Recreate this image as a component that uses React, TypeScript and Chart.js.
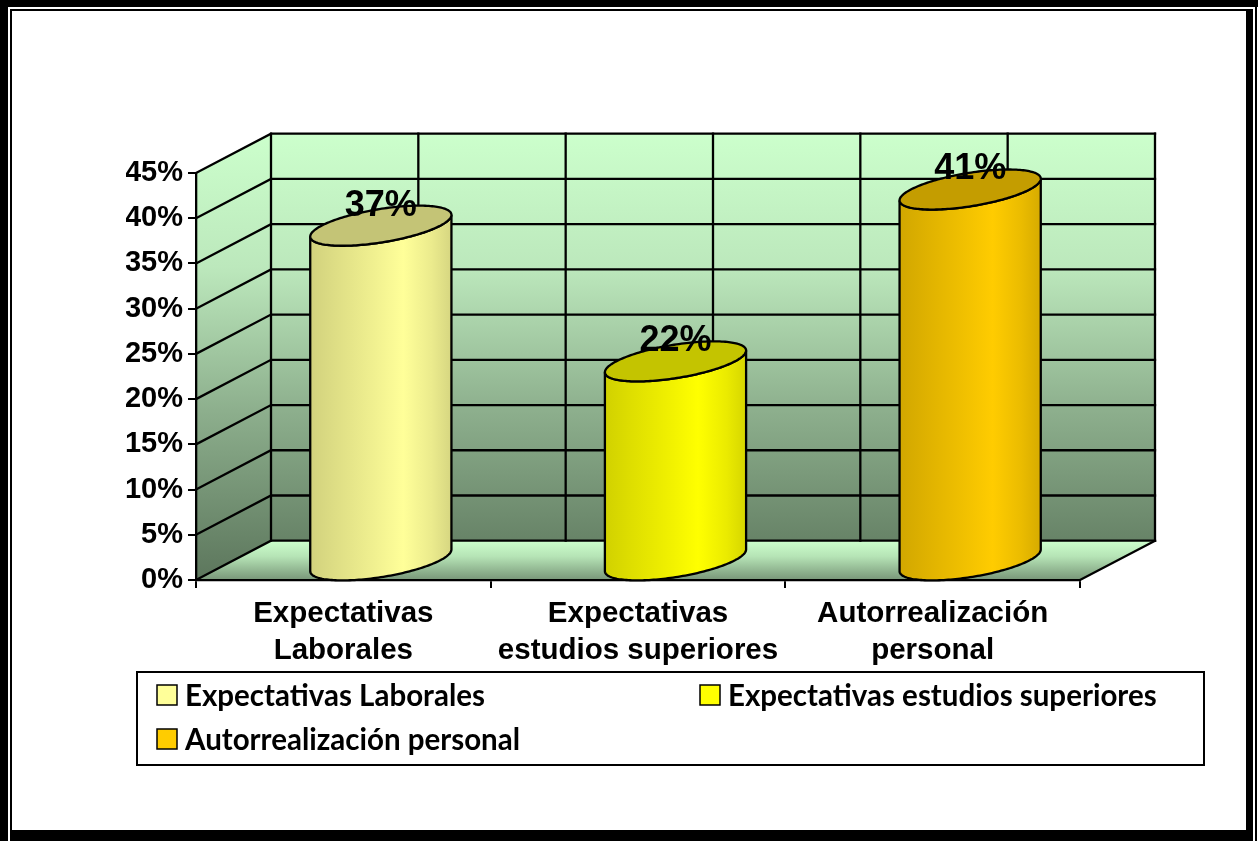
import React, { useEffect, useRef } from 'react';
import { Chart, registerables } from 'chart.js';

Chart.register(...registerables);

// ---------- data ----------
const categories: string[][] = [
  ['Expectativas', 'Laborales'],
  ['Expectativas', 'estudios superiores'],
  ['Autorrealización', 'personal'],
];
const legendLabels: string[] = [
  'Expectativas Laborales',
  'Expectativas estudios superiores',
  'Autorrealización personal',
];
const values: number[] = [0.37, 0.22, 0.41];
const valueLabels: string[] = ['37%', '22%', '41%'];
const yTickLabels: string[] = ['0%', '5%', '10%', '15%', '20%', '25%', '30%', '35%', '40%', '45%'];
const barColors: string[] = ['#FFFF99', '#FFFF00', '#FFCC00'];

// ---------- styling / geometry constants ----------
const W = 1258;
const H = 841;
const DX = 75; // depth offset x
const DY = 39.3; // depth offset y
const RX_FRAC = 0.2014; // cylinder radius as fraction of category width
const RZ = 0.51; // cylinder radius in depth units
const AXIS_FONT = "'Liberation Sans', Arial, sans-serif";
const LEGEND_FONT = "Lato, 'Open Sans', sans-serif";
const LINE_W = 2.3;

function hexToRgb(hex: string) {
  const h = hex.replace('#', '');
  return [parseInt(h.slice(0, 2), 16), parseInt(h.slice(2, 4), 16), parseInt(h.slice(4, 6), 16)];
}
function shade(hex: string, f: number) {
  const [r, g, b] = hexToRgb(hex);
  return `rgb(${Math.round(r * f)},${Math.round(g * f)},${Math.round(b * f)})`;
}

const wallPlugin = {
  id: 'walls3d',
  beforeDraw(chart: any) {
    const ctx = chart.ctx;
    const xs = chart.scales.x;
    const ys = chart.scales.y;
    const x0 = xs.left;
    const x1 = xs.right;
    const yb = ys.getPixelForValue(0);
    const yt = ys.getPixelForValue(ys.max);
    ctx.save();
    // back wall
    const g = ctx.createLinearGradient(0, yt - DY, 0, yb);
    g.addColorStop(0, '#CCFFCC');
    g.addColorStop(0.3, '#BCE8BC');
    g.addColorStop(0.62, '#8DAF8D');
    g.addColorStop(1, '#5C765C');
    ctx.fillStyle = g;
    ctx.fillRect(x0 + DX, yt - DY, x1 - x0, yb - yt);
    // side wall
    ctx.beginPath();
    ctx.moveTo(x0, yt);
    ctx.lineTo(x0 + DX, yt - DY);
    ctx.lineTo(x0 + DX, yb - DY);
    ctx.lineTo(x0, yb);
    ctx.closePath();
    ctx.fill();
    // floor
    const fg = ctx.createLinearGradient(0, yb - DY, 0, yb);
    fg.addColorStop(0, '#CCFFCC');
    fg.addColorStop(0.4, '#B6E4B6');
    fg.addColorStop(1, '#789678');
    ctx.fillStyle = fg;
    ctx.beginPath();
    ctx.moveTo(x0, yb);
    ctx.lineTo(x1, yb);
    ctx.lineTo(x1 + DX, yb - DY);
    ctx.lineTo(x0 + DX, yb - DY);
    ctx.closePath();
    ctx.fill();

    // grid lines
    ctx.strokeStyle = '#000';
    ctx.lineWidth = LINE_W;
    ctx.lineCap = 'square';
    ys.ticks.forEach((t: any) => {
      const y = ys.getPixelForValue(t.value);
      ctx.beginPath();
      ctx.moveTo(x0, y);
      ctx.lineTo(x0 + DX, y - DY);
      ctx.lineTo(x1 + DX, y - DY);
      ctx.stroke();
    });
    for (let k = 0; k <= categories.length * 2; k++) {
      const x = xs.getPixelForValue(-0.5 + k * 0.5) + DX;
      ctx.beginPath();
      ctx.moveTo(x, yt - DY);
      ctx.lineTo(x, yb - DY);
      ctx.stroke();
    }
    // floor right edge
    ctx.beginPath();
    ctx.moveTo(x1, yb);
    ctx.lineTo(x1 + DX, yb - DY);
    ctx.stroke();
    ctx.restore();
  },
  afterDatasetsDraw(chart: any) {
    const ctx = chart.ctx;
    const xs = chart.scales.x;
    const ys = chart.scales.y;
    const catW = xs.getPixelForValue(1) - xs.getPixelForValue(0);
    const yBase = ys.getPixelForValue(0);
    const a = catW * RX_FRAC;
    const b = DX * RZ;
    const c = DY * RZ;
    const phi = Math.atan2(b, a);
    const R = Math.sqrt(a * a + b * b);
    const N = 90;
    ctx.save();
    values.forEach((v, i) => {
      const cx = xs.getPixelForValue(i) + DX * 0.5;
      const yTop = ys.getPixelForValue(v);
      const pt = (th: number, yv: number) => [
        cx + a * Math.cos(th) + b * Math.sin(th),
        yv - DY * 0.5 - c * Math.sin(th),
      ];
      const col = barColors[i];
      // body
      ctx.beginPath();
      for (let k = 0; k <= N; k++) {
        const th = Math.PI + phi + (Math.PI * k) / N;
        const [x, y] = pt(th, yBase);
        if (k === 0) ctx.moveTo(x, y);
        else ctx.lineTo(x, y);
      }
      for (let k = N; k >= 0; k--) {
        const th = Math.PI + phi + (Math.PI * k) / N;
        const [x, y] = pt(th, yTop);
        ctx.lineTo(x, y);
      }
      ctx.closePath();
      const bg = ctx.createLinearGradient(cx - R, 0, cx + R, 0);
      bg.addColorStop(0, shade(col, 0.82));
      bg.addColorStop(0.18, shade(col, 0.87));
      bg.addColorStop(0.45, shade(col, 0.94));
      bg.addColorStop(0.66, shade(col, 1.0));
      bg.addColorStop(0.86, shade(col, 0.92));
      bg.addColorStop(1, shade(col, 0.84));
      ctx.fillStyle = bg;
      ctx.fill();
      ctx.strokeStyle = '#000';
      ctx.lineWidth = LINE_W;
      ctx.stroke();
      // lid
      ctx.beginPath();
      for (let k = 0; k <= 2 * N; k++) {
        const th = (Math.PI * k) / N;
        const [x, y] = pt(th, yTop);
        if (k === 0) ctx.moveTo(x, y);
        else ctx.lineTo(x, y);
      }
      ctx.closePath();
      ctx.fillStyle = shade(col, 0.77);
      ctx.fill();
      ctx.stroke();
      // value label
      ctx.fillStyle = '#000';
      ctx.font = `bold 36px ${AXIS_FONT}`;
      ctx.textAlign = 'center';
      ctx.textBaseline = 'middle';
      ctx.fillText(valueLabels[i], cx, yTop - DY * 0.5 - c);
    });
    ctx.restore();
  },
  afterDraw(chart: any) {
    const ctx = chart.ctx;
    ctx.save();
    // legend box
    const bx = 137, by = 672, bw = 1067, bh = 93;
    ctx.fillStyle = '#fff';
    ctx.fillRect(bx, by, bw, bh);
    ctx.strokeStyle = '#000';
    ctx.lineWidth = 2;
    ctx.strokeRect(bx, by, bw, bh);
    const pos = [
      [157, 685],
      [700, 685],
      [157, 729],
    ];
    ctx.font = `bold 29.5px ${LEGEND_FONT}`;
    ctx.textAlign = 'left';
    ctx.textBaseline = 'middle';
    legendLabels.forEach((lab, i) => {
      const [x, y] = pos[i];
      ctx.fillStyle = barColors[i];
      ctx.fillRect(x, y, 20, 20);
      ctx.lineWidth = 1.5;
      ctx.strokeStyle = '#000';
      ctx.strokeRect(x, y, 20, 20);
      ctx.fillStyle = '#000';
      ctx.fillText(lab, x + 28, y + 11);
    });
    ctx.restore();
  },
};

export default function App() {
  const ref = useRef<HTMLCanvasElement | null>(null);
  useEffect(() => {
    if (!ref.current) return;
    const chart = new Chart(ref.current, {
      type: 'bar',
      data: {
        labels: categories,
        datasets: [
          {
            label: 'Serie',
            data: values,
            backgroundColor: 'rgba(0,0,0,0)',
            borderWidth: 0,
          },
        ],
      },
      options: {
        responsive: false,
        animation: false,
        devicePixelRatio: 1,
        layout: { padding: { left: 126, right: 178, top: 173, bottom: 161 } },
        plugins: { legend: { display: false }, tooltip: { enabled: false } },
        scales: {
          x: {
            type: 'category',
            afterFit: (s: any) => {
              s.height = 100;
            },
            grid: {
              drawOnChartArea: false,
              drawTicks: true,
              tickLength: 8,
              color: '#000',
              lineWidth: 2,
              offset: true,
            },
            border: { display: true, color: '#000', width: LINE_W },
            ticks: {
              autoSkip: false,
              maxRotation: 0,
              minRotation: 0,
              padding: 7,
              color: '#000',
              font: { family: AXIS_FONT, weight: 'bold', size: 29.5, lineHeight: 1.26 },
            },
          },
          y: {
            type: 'linear',
            min: 0,
            max: 0.45,
            afterFit: (s: any) => {
              s.width = 70;
            },
            grid: {
              drawOnChartArea: false,
              drawTicks: true,
              tickLength: 8,
              color: '#000',
              lineWidth: 2,
            },
            border: { display: true, color: '#000', width: LINE_W },
            ticks: {
              stepSize: 0.05,
              padding: 5,
              color: '#000',
              font: { family: AXIS_FONT, weight: 'bold', size: 29 },
              callback: (_v: any, i: number) => yTickLabels[i],
            },
          },
        },
      } as any,
      plugins: [wallPlugin],
    });
    return () => chart.destroy();
  }, []);

  const blk = (l: number, t: number, w: number, h: number) => (
    <div style={{ position: 'absolute', left: l, top: t, width: w, height: h, background: '#000' }} />
  );

  return (
    <div style={{ position: 'fixed', left: 0, top: 0, width: W, height: H, background: '#fff', overflow: 'hidden' }}>
      <canvas ref={ref} width={W} height={H} style={{ position: 'absolute', left: 0, top: 0, width: W, height: H, display: 'block' }} />
      {blk(0, 0, W, 7)}
      {blk(0, 0, 8, H)}
      {blk(1246, 9, 7, H - 9)}
      {blk(12, 830, 1241, 11)}
      {blk(10, 9, 2, H - 9)}
      {blk(10, 9, 1236, 2)}
      {blk(1255, 7, 2, H - 7)}
    </div>
  );
}
